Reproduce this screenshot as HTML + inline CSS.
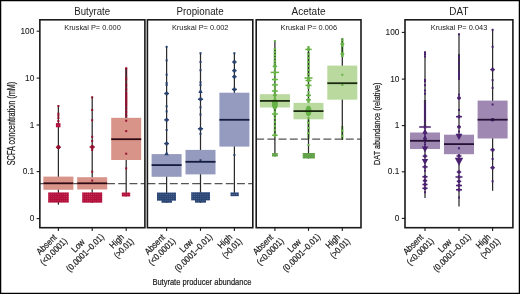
<!DOCTYPE html><html><head><meta charset="utf-8"><style>html,body{margin:0;padding:0;background:#fff;}svg{display:block;will-change:transform} text{stroke:#1e1e1e;stroke-width:0.22px}</style></head><body>
<svg width="520" height="294" viewBox="0 0 520 294" font-family='"Liberation Sans", sans-serif'>
<rect x="0" y="0" width="520" height="294" fill="#fff"/>
<rect x="0.6" y="0.6" width="518.8" height="292.8" fill="none" stroke="#000" stroke-width="1.3"/>
<line x1="39.85" y1="183.5" x2="144.9" y2="183.5" stroke="#555" stroke-width="1.25" stroke-dasharray="7.9 3.3"/>
<line x1="58.4" y1="105.4" x2="58.4" y2="204.7" stroke="#2a2a2a" stroke-width="1.25"/>
<rect x="43.40" y="176.6" width="30.00" height="13.20" fill="#d9948a"/>
<rect x="57.40" y="105.10" width="2.00" height="2.00" fill="#96102e"/>
<rect x="57.40" y="112.60" width="2.00" height="2.00" fill="#96102e"/>
<rect x="57.40" y="114.60" width="2.00" height="2.00" fill="#96102e"/>
<rect x="57.40" y="117.00" width="2.00" height="2.00" fill="#96102e"/>
<rect x="57.40" y="120.00" width="2.00" height="2.00" fill="#96102e"/>
<rect x="55.90" y="146.45" width="5.00" height="1.5" fill="#96102e"/>
<rect x="57.20" y="145.50" width="2.4" height="3.4" fill="#96102e"/>
<rect x="56.80" y="145.60" width="3.20" height="3.20" fill="#96102e"/>
<line x1="43.40" y1="183.3" x2="73.40" y2="183.3" stroke="#300a12" stroke-width="1.8"/>
<line x1="92.2" y1="96.6" x2="92.2" y2="203.0" stroke="#2a2a2a" stroke-width="1.25"/>
<rect x="77.20" y="177.2" width="30.00" height="12.30" fill="#d9948a"/>
<rect x="91.20" y="96.40" width="2.00" height="2.00" fill="#96102e"/>
<rect x="91.20" y="109.00" width="2.00" height="2.00" fill="#96102e"/>
<rect x="91.20" y="119.20" width="2.00" height="2.00" fill="#96102e"/>
<rect x="91.20" y="135.80" width="2.00" height="2.00" fill="#96102e"/>
<rect x="91.20" y="140.00" width="2.00" height="2.00" fill="#96102e"/>
<rect x="91.20" y="149.00" width="2.00" height="2.00" fill="#96102e"/>
<rect x="91.20" y="170.70" width="2.00" height="2.00" fill="#96102e"/>
<rect x="91.20" y="179.60" width="2.00" height="2.00" fill="#96102e"/>
<rect x="89.60" y="146.25" width="5.20" height="1.5" fill="#96102e"/>
<rect x="91.00" y="145.30" width="2.4" height="3.4" fill="#96102e"/>
<rect x="90.70" y="145.50" width="3.00" height="3.00" fill="#96102e"/>
<line x1="77.20" y1="183.3" x2="107.20" y2="183.3" stroke="#300a12" stroke-width="1.8"/>
<line x1="126.2" y1="68" x2="126.2" y2="118" stroke="#96102e" stroke-width="2.2" opacity="0.85"/>
<line x1="126.2" y1="67.9" x2="126.2" y2="196.4" stroke="#2a2a2a" stroke-width="1.25"/>
<rect x="111.20" y="117.8" width="30.00" height="42.20" fill="#d9948a"/>
<rect x="125.20" y="67.20" width="2.00" height="2.00" fill="#96102e"/>
<rect x="125.20" y="77.80" width="2.00" height="2.00" fill="#96102e"/>
<rect x="125.20" y="84.20" width="2.00" height="2.00" fill="#96102e"/>
<rect x="125.20" y="88.30" width="2.00" height="2.00" fill="#96102e"/>
<rect x="125.20" y="92.30" width="2.00" height="2.00" fill="#96102e"/>
<rect x="125.20" y="94.40" width="2.00" height="2.00" fill="#96102e"/>
<rect x="125.20" y="96.40" width="2.00" height="2.00" fill="#96102e"/>
<rect x="125.20" y="98.50" width="2.00" height="2.00" fill="#96102e"/>
<rect x="125.20" y="100.50" width="2.00" height="2.00" fill="#96102e"/>
<rect x="125.20" y="102.50" width="2.00" height="2.00" fill="#96102e"/>
<rect x="125.20" y="104.50" width="2.00" height="2.00" fill="#96102e"/>
<rect x="125.20" y="107.60" width="2.00" height="2.00" fill="#96102e"/>
<rect x="125.20" y="111.00" width="2.00" height="2.00" fill="#96102e"/>
<rect x="125.20" y="114.40" width="2.00" height="2.00" fill="#96102e"/>
<rect x="125.20" y="119.70" width="2.00" height="2.00" fill="#96102e"/>
<rect x="125.20" y="130.10" width="2.00" height="2.00" fill="#96102e"/>
<rect x="125.20" y="152.70" width="2.00" height="2.00" fill="#96102e"/>
<rect x="125.20" y="167.40" width="2.00" height="2.00" fill="#96102e"/>
<line x1="111.20" y1="139.2" x2="141.20" y2="139.2" stroke="#300a12" stroke-width="1.8"/>
<defs><pattern id="pt0" x="0.3" y="0.3" width="2.1" height="2.1" patternUnits="userSpaceOnUse"><rect width="2.1" height="2.1" fill="#b00c38"/><rect x="0.5" y="0.5" width="1" height="1" fill="#e06080" opacity="0.55"/></pattern></defs>
<rect x="48.2" y="192.4" width="20.60" height="10.20" fill="url(#pt0)"/>
<rect x="82.2" y="192.4" width="20.00" height="10.30" fill="url(#pt0)"/>
<rect x="121.8" y="192.5" width="8.40" height="4.00" fill="url(#pt0)"/>
<rect x="55.9" y="123.1" width="4.60" height="4.20" fill="url(#pt0)"/>
<rect x="39.85" y="19.8" width="105.05" height="207.90" fill="none" stroke="#1a1a1a" stroke-width="1.6"/>
<line x1="58.4" y1="227.7" x2="58.4" y2="230.89999999999998" stroke="#1a1a1a" stroke-width="1.1"/>
<line x1="92.2" y1="227.7" x2="92.2" y2="230.89999999999998" stroke="#1a1a1a" stroke-width="1.1"/>
<line x1="126.2" y1="227.7" x2="126.2" y2="230.89999999999998" stroke="#1a1a1a" stroke-width="1.1"/>
<text x="92.2" y="14.6" font-size="10" text-anchor="middle" fill="#222" style="stroke-width:0" textLength="35.9" lengthAdjust="spacingAndGlyphs">Butyrate</text>
<text x="92.5" y="29.9" font-size="7.6" text-anchor="middle" fill="#222" style="stroke-width:0" textLength="56.6" lengthAdjust="spacingAndGlyphs">Kruskal P= 0.000</text>
<line x1="147.4" y1="183.5" x2="252.8" y2="183.5" stroke="#555" stroke-width="1.25" stroke-dasharray="7.9 3.3"/>
<line x1="166.6" y1="46.8" x2="166.6" y2="203.0" stroke="#2a2a2a" stroke-width="1.25"/>
<rect x="151.60" y="154.1" width="30.00" height="22.70" fill="#959bbf"/>
<rect x="165.60" y="45.80" width="2.00" height="2.00" fill="#26406e"/>
<rect x="165.60" y="59.40" width="2.00" height="2.00" fill="#26406e"/>
<rect x="165.60" y="73.70" width="2.00" height="2.00" fill="#26406e"/>
<rect x="165.60" y="82.00" width="2.00" height="2.00" fill="#26406e"/>
<rect x="165.60" y="84.00" width="2.00" height="2.00" fill="#26406e"/>
<rect x="165.60" y="105.30" width="2.00" height="2.00" fill="#26406e"/>
<rect x="165.60" y="110.40" width="2.00" height="2.00" fill="#26406e"/>
<rect x="165.60" y="129.00" width="2.00" height="2.00" fill="#26406e"/>
<rect x="164.20" y="92.75" width="4.80" height="1.5" fill="#26406e"/>
<rect x="165.40" y="91.80" width="2.4" height="3.4" fill="#26406e"/>
<rect x="164.20" y="119.15" width="4.80" height="1.5" fill="#26406e"/>
<rect x="165.40" y="118.20" width="2.4" height="3.4" fill="#26406e"/>
<rect x="164.20" y="142.85" width="4.80" height="1.5" fill="#26406e"/>
<rect x="165.40" y="141.90" width="2.4" height="3.4" fill="#26406e"/>
<path d="M166.60,151.10 L168.80,155.28 L164.40,155.28Z" fill="#26406e"/>
<line x1="151.60" y1="165.1" x2="181.60" y2="165.1" stroke="#141c3e" stroke-width="1.8"/>
<line x1="200.5" y1="53.2" x2="200.5" y2="203.0" stroke="#2a2a2a" stroke-width="1.25"/>
<rect x="185.50" y="149.9" width="30.00" height="24.50" fill="#959bbf"/>
<rect x="199.50" y="52.20" width="2.00" height="2.00" fill="#26406e"/>
<rect x="199.50" y="61.00" width="2.00" height="2.00" fill="#26406e"/>
<rect x="199.50" y="69.20" width="2.00" height="2.00" fill="#26406e"/>
<rect x="199.50" y="81.40" width="2.00" height="2.00" fill="#26406e"/>
<rect x="199.50" y="84.00" width="2.00" height="2.00" fill="#26406e"/>
<rect x="199.50" y="106.30" width="2.00" height="2.00" fill="#26406e"/>
<rect x="199.50" y="113.50" width="2.00" height="2.00" fill="#26406e"/>
<rect x="199.50" y="132.90" width="2.00" height="2.00" fill="#26406e"/>
<rect x="199.50" y="159.20" width="2.00" height="2.00" fill="#26406e"/>
<path d="M200.50,88.80 L202.70,92.98 L198.30,92.98Z" fill="#26406e"/>
<rect x="197.90" y="98.45" width="5.20" height="1.5" fill="#26406e"/>
<rect x="199.30" y="97.50" width="2.4" height="3.4" fill="#26406e"/>
<rect x="197.90" y="128.05" width="5.20" height="1.5" fill="#26406e"/>
<rect x="199.30" y="127.10" width="2.4" height="3.4" fill="#26406e"/>
<line x1="185.50" y1="161.8" x2="215.50" y2="161.8" stroke="#141c3e" stroke-width="1.8"/>
<line x1="234.4" y1="53.2" x2="234.4" y2="196.0" stroke="#2a2a2a" stroke-width="1.25"/>
<rect x="219.40" y="92.7" width="30.00" height="53.90" fill="#959bbf"/>
<rect x="233.40" y="52.20" width="2.00" height="2.00" fill="#26406e"/>
<rect x="233.40" y="154.00" width="2.00" height="2.00" fill="#26406e"/>
<rect x="232.20" y="61.25" width="4.40" height="1.5" fill="#26406e"/>
<rect x="233.20" y="60.30" width="2.4" height="3.4" fill="#26406e"/>
<rect x="232.20" y="69.85" width="4.40" height="1.5" fill="#26406e"/>
<rect x="233.20" y="68.90" width="2.4" height="3.4" fill="#26406e"/>
<rect x="232.20" y="75.95" width="4.40" height="1.5" fill="#26406e"/>
<rect x="233.20" y="75.00" width="2.4" height="3.4" fill="#26406e"/>
<rect x="231.90" y="88.65" width="5.00" height="1.5" fill="#26406e"/>
<rect x="233.20" y="87.70" width="2.4" height="3.4" fill="#26406e"/>
<line x1="219.40" y1="119.8" x2="249.40" y2="119.8" stroke="#141c3e" stroke-width="1.8"/>
<defs><pattern id="pt1" x="0.3" y="0.3" width="2.1" height="2.1" patternUnits="userSpaceOnUse"><rect width="2.1" height="2.1" fill="#29426f"/><rect x="0.5" y="0.5" width="1" height="1" fill="#7090c8" opacity="0.55"/></pattern></defs>
<rect x="157" y="192.5" width="19.00" height="8.20" fill="url(#pt1)"/>
<rect x="161.5" y="200" width="10.50" height="2.80" fill="url(#pt1)"/>
<rect x="191.2" y="192.2" width="18.80" height="8.20" fill="url(#pt1)"/>
<rect x="195" y="200" width="11.00" height="2.70" fill="url(#pt1)"/>
<rect x="230.5" y="192.4" width="8.30" height="3.80" fill="url(#pt1)"/>
<rect x="147.4" y="19.8" width="105.40" height="207.90" fill="none" stroke="#1a1a1a" stroke-width="1.6"/>
<line x1="166.6" y1="227.7" x2="166.6" y2="230.89999999999998" stroke="#1a1a1a" stroke-width="1.1"/>
<line x1="200.5" y1="227.7" x2="200.5" y2="230.89999999999998" stroke="#1a1a1a" stroke-width="1.1"/>
<line x1="234.4" y1="227.7" x2="234.4" y2="230.89999999999998" stroke="#1a1a1a" stroke-width="1.1"/>
<text x="200.1" y="14.6" font-size="10" text-anchor="middle" fill="#222" style="stroke-width:0" textLength="47.2" lengthAdjust="spacingAndGlyphs">Propionate</text>
<text x="200.2" y="29.9" font-size="7.6" text-anchor="middle" fill="#222" style="stroke-width:0" textLength="56.6" lengthAdjust="spacingAndGlyphs">Kruskal P= 0.002</text>
<line x1="256.2" y1="139.2" x2="361.0" y2="139.2" stroke="#555" stroke-width="1.25" stroke-dasharray="7.9 3.3"/>
<line x1="274.9" y1="48" x2="274.9" y2="66" stroke="#66b246" stroke-width="2.4" opacity="0.85"/>
<line x1="274.9" y1="107" x2="274.9" y2="134" stroke="#66b246" stroke-width="2.2" opacity="0.85"/>
<line x1="274.9" y1="40.7" x2="274.9" y2="156.5" stroke="#2a2a2a" stroke-width="1.25"/>
<rect x="259.90" y="94.2" width="30.00" height="13.30" fill="#b9d99f"/>
<rect x="273.90" y="40.00" width="2.00" height="2.00" fill="#66b246"/>
<rect x="273.90" y="48.00" width="2.00" height="2.00" fill="#66b246"/>
<rect x="273.90" y="51.00" width="2.00" height="2.00" fill="#66b246"/>
<rect x="273.90" y="54.00" width="2.00" height="2.00" fill="#66b246"/>
<rect x="273.90" y="57.00" width="2.00" height="2.00" fill="#66b246"/>
<rect x="273.90" y="60.00" width="2.00" height="2.00" fill="#66b246"/>
<rect x="273.90" y="62.50" width="2.00" height="2.00" fill="#66b246"/>
<rect x="273.90" y="68.00" width="2.00" height="2.00" fill="#66b246"/>
<rect x="273.90" y="74.00" width="2.00" height="2.00" fill="#66b246"/>
<rect x="273.90" y="87.00" width="2.00" height="2.00" fill="#66b246"/>
<rect x="273.90" y="97.00" width="2.00" height="2.00" fill="#66b246"/>
<rect x="273.90" y="102.00" width="2.00" height="2.00" fill="#66b246"/>
<rect x="273.90" y="111.00" width="2.00" height="2.00" fill="#66b246"/>
<rect x="273.90" y="117.00" width="2.00" height="2.00" fill="#66b246"/>
<rect x="273.90" y="121.00" width="2.00" height="2.00" fill="#66b246"/>
<rect x="273.90" y="125.00" width="2.00" height="2.00" fill="#66b246"/>
<rect x="273.90" y="129.00" width="2.00" height="2.00" fill="#66b246"/>
<rect x="272.70" y="65.55" width="4.40" height="1.5" fill="#66b246"/>
<rect x="273.70" y="64.60" width="2.4" height="3.4" fill="#66b246"/>
<rect x="270.70" y="71.65" width="8.40" height="1.5" fill="#66b246"/>
<rect x="273.70" y="70.70" width="2.4" height="3.4" fill="#66b246"/>
<rect x="271.90" y="78.75" width="6.00" height="1.5" fill="#66b246"/>
<rect x="273.70" y="77.80" width="2.4" height="3.4" fill="#66b246"/>
<rect x="271.90" y="84.15" width="6.00" height="1.5" fill="#66b246"/>
<rect x="273.70" y="83.20" width="2.4" height="3.4" fill="#66b246"/>
<rect x="271.90" y="90.25" width="6.00" height="1.5" fill="#66b246"/>
<rect x="273.70" y="89.30" width="2.4" height="3.4" fill="#66b246"/>
<rect x="272.90" y="94.45" width="4.00" height="1.5" fill="#66b246"/>
<rect x="273.70" y="93.50" width="2.4" height="3.4" fill="#66b246"/>
<rect x="272.10" y="134.45" width="5.60" height="1.5" fill="#66b246"/>
<rect x="273.70" y="133.50" width="2.4" height="3.4" fill="#66b246"/>
<ellipse cx="274.90" cy="104.00" rx="3.00" ry="5.60" fill="#66b246"/>
<rect x="271.90" y="113.25" width="6.00" height="1.5" fill="#66b246"/>
<rect x="273.70" y="112.30" width="2.4" height="3.4" fill="#66b246"/>
<line x1="259.90" y1="100.9" x2="289.90" y2="100.9" stroke="#1c2a12" stroke-width="1.8"/>
<line x1="308.5" y1="52" x2="308.5" y2="76" stroke="#66b246" stroke-width="2.4" opacity="0.85"/>
<line x1="308.5" y1="119" x2="308.5" y2="139" stroke="#66b246" stroke-width="2.2" opacity="0.85"/>
<line x1="308.5" y1="46.8" x2="308.5" y2="158.5" stroke="#2a2a2a" stroke-width="1.25"/>
<rect x="293.50" y="102.9" width="30.00" height="16.40" fill="#b9d99f"/>
<rect x="307.50" y="46.00" width="2.00" height="2.00" fill="#66b246"/>
<rect x="307.50" y="53.20" width="2.00" height="2.00" fill="#66b246"/>
<rect x="307.50" y="57.00" width="2.00" height="2.00" fill="#66b246"/>
<rect x="307.50" y="61.00" width="2.00" height="2.00" fill="#66b246"/>
<rect x="307.50" y="65.00" width="2.00" height="2.00" fill="#66b246"/>
<rect x="307.50" y="69.00" width="2.00" height="2.00" fill="#66b246"/>
<rect x="307.50" y="73.00" width="2.00" height="2.00" fill="#66b246"/>
<rect x="307.50" y="87.00" width="2.00" height="2.00" fill="#66b246"/>
<rect x="307.50" y="91.00" width="2.00" height="2.00" fill="#66b246"/>
<rect x="307.50" y="101.00" width="2.00" height="2.00" fill="#66b246"/>
<rect x="307.50" y="117.00" width="2.00" height="2.00" fill="#66b246"/>
<rect x="307.50" y="122.00" width="2.00" height="2.00" fill="#66b246"/>
<rect x="307.50" y="127.00" width="2.00" height="2.00" fill="#66b246"/>
<rect x="307.50" y="132.00" width="2.00" height="2.00" fill="#66b246"/>
<rect x="307.50" y="144.00" width="2.00" height="2.00" fill="#66b246"/>
<rect x="305.30" y="48.65" width="6.40" height="1.5" fill="#66b246"/>
<rect x="307.30" y="47.70" width="2.4" height="3.4" fill="#66b246"/>
<rect x="304.50" y="77.25" width="8.00" height="1.5" fill="#66b246"/>
<rect x="307.30" y="76.30" width="2.4" height="3.4" fill="#66b246"/>
<rect x="305.50" y="79.75" width="6.00" height="1.5" fill="#66b246"/>
<rect x="307.30" y="78.80" width="2.4" height="3.4" fill="#66b246"/>
<rect x="305.50" y="84.65" width="6.00" height="1.5" fill="#66b246"/>
<rect x="307.30" y="83.70" width="2.4" height="3.4" fill="#66b246"/>
<rect x="306.00" y="94.55" width="5.00" height="1.5" fill="#66b246"/>
<rect x="307.30" y="93.60" width="2.4" height="3.4" fill="#66b246"/>
<rect x="306.00" y="99.15" width="5.00" height="1.5" fill="#66b246"/>
<rect x="307.30" y="98.20" width="2.4" height="3.4" fill="#66b246"/>
<ellipse cx="308.50" cy="111.00" rx="3.00" ry="5.40" fill="#66b246"/>
<line x1="293.50" y1="111.1" x2="323.50" y2="111.1" stroke="#1c2a12" stroke-width="1.8"/>
<line x1="342.3" y1="38" x2="342.3" y2="57" stroke="#66b246" stroke-width="2.4" opacity="0.85"/>
<line x1="342.3" y1="126" x2="342.3" y2="140" stroke="#66b246" stroke-width="2.2" opacity="0.85"/>
<line x1="342.3" y1="38.8" x2="342.3" y2="140.0" stroke="#2a2a2a" stroke-width="1.25"/>
<rect x="327.30" y="65.6" width="30.00" height="34.10" fill="#b9d99f"/>
<rect x="341.30" y="39.40" width="2.00" height="2.00" fill="#66b246"/>
<rect x="341.30" y="44.90" width="2.00" height="2.00" fill="#66b246"/>
<rect x="341.30" y="55.10" width="2.00" height="2.00" fill="#66b246"/>
<rect x="341.30" y="73.80" width="2.00" height="2.00" fill="#66b246"/>
<rect x="341.30" y="84.00" width="2.00" height="2.00" fill="#66b246"/>
<rect x="341.30" y="129.60" width="2.00" height="2.00" fill="#66b246"/>
<rect x="341.30" y="135.00" width="2.00" height="2.00" fill="#66b246"/>
<rect x="340.30" y="43.25" width="4.00" height="1.5" fill="#66b246"/>
<rect x="341.10" y="42.30" width="2.4" height="3.4" fill="#66b246"/>
<rect x="340.30" y="53.25" width="4.00" height="1.5" fill="#66b246"/>
<rect x="341.10" y="52.30" width="2.4" height="3.4" fill="#66b246"/>
<line x1="327.30" y1="83.2" x2="357.30" y2="83.2" stroke="#1c2a12" stroke-width="1.8"/>
<defs><pattern id="pt2" x="0.3" y="0.3" width="2.1" height="2.1" patternUnits="userSpaceOnUse"><rect width="2.1" height="2.1" fill="#5c9e44"/><rect x="0.5" y="0.5" width="1" height="1" fill="#90cc74" opacity="0.55"/></pattern></defs>
<rect x="272" y="153.1" width="5.80" height="3.40" fill="url(#pt2)"/>
<rect x="302.7" y="153" width="12.20" height="5.50" fill="url(#pt2)"/>
<rect x="256.2" y="19.8" width="104.80" height="207.90" fill="none" stroke="#1a1a1a" stroke-width="1.6"/>
<line x1="274.9" y1="227.7" x2="274.9" y2="230.89999999999998" stroke="#1a1a1a" stroke-width="1.1"/>
<line x1="308.5" y1="227.7" x2="308.5" y2="230.89999999999998" stroke="#1a1a1a" stroke-width="1.1"/>
<line x1="342.3" y1="227.7" x2="342.3" y2="230.89999999999998" stroke="#1a1a1a" stroke-width="1.1"/>
<text x="308.5" y="14.6" font-size="10" text-anchor="middle" fill="#222" style="stroke-width:0" textLength="34.0" lengthAdjust="spacingAndGlyphs">Acetate</text>
<text x="308.8" y="29.9" font-size="7.6" text-anchor="middle" fill="#222" style="stroke-width:0" textLength="56.6" lengthAdjust="spacingAndGlyphs">Kruskal P= 0.006</text>
<line x1="425.0" y1="100" x2="425.0" y2="126" stroke="#4a2070" stroke-width="2.2" opacity="0.85"/>
<line x1="425.0" y1="51.5" x2="425.0" y2="198.0" stroke="#2a2a2a" stroke-width="1.25"/>
<rect x="410.00" y="132.5" width="30.00" height="16.50" fill="#9f88b2"/>
<rect x="424.00" y="51.40" width="2.00" height="2.00" fill="#4a2070"/>
<rect x="424.00" y="53.20" width="2.00" height="2.00" fill="#4a2070"/>
<rect x="424.00" y="55.50" width="2.00" height="2.00" fill="#4a2070"/>
<rect x="424.00" y="78.90" width="2.00" height="2.00" fill="#4a2070"/>
<rect x="424.00" y="80.30" width="2.00" height="2.00" fill="#4a2070"/>
<rect x="424.00" y="84.20" width="2.00" height="2.00" fill="#4a2070"/>
<rect x="424.00" y="89.50" width="2.00" height="2.00" fill="#4a2070"/>
<rect x="424.00" y="92.70" width="2.00" height="2.00" fill="#4a2070"/>
<rect x="424.00" y="103.50" width="2.00" height="2.00" fill="#4a2070"/>
<rect x="424.00" y="106.20" width="2.00" height="2.00" fill="#4a2070"/>
<rect x="424.00" y="109.00" width="2.00" height="2.00" fill="#4a2070"/>
<rect x="424.00" y="111.70" width="2.00" height="2.00" fill="#4a2070"/>
<rect x="424.00" y="114.40" width="2.00" height="2.00" fill="#4a2070"/>
<rect x="424.00" y="117.10" width="2.00" height="2.00" fill="#4a2070"/>
<rect x="424.00" y="119.80" width="2.00" height="2.00" fill="#4a2070"/>
<rect x="424.00" y="133.50" width="2.00" height="2.00" fill="#4a2070"/>
<rect x="424.00" y="135.50" width="2.00" height="2.00" fill="#4a2070"/>
<rect x="424.00" y="141.50" width="2.00" height="2.00" fill="#4a2070"/>
<rect x="424.00" y="143.50" width="2.00" height="2.00" fill="#4a2070"/>
<rect x="424.00" y="145.50" width="2.00" height="2.00" fill="#4a2070"/>
<rect x="424.00" y="169.70" width="2.00" height="2.00" fill="#4a2070"/>
<rect x="424.00" y="179.70" width="2.00" height="2.00" fill="#4a2070"/>
<rect x="424.00" y="191.20" width="2.00" height="2.00" fill="#4a2070"/>
<rect x="419.20" y="126.25" width="11.60" height="1.5" fill="#4a2070"/>
<rect x="423.80" y="125.30" width="2.4" height="3.4" fill="#4a2070"/>
<path d="M425.00,128.50 L427.70,133.63 L422.30,133.63Z" fill="#4a2070"/>
<rect x="423.00" y="137.85" width="4.00" height="1.5" fill="#4a2070"/>
<rect x="423.80" y="136.90" width="2.4" height="3.4" fill="#4a2070"/>
<path d="M425.00,152.50 L428.20,146.42 L421.80,146.42Z" fill="#4a2070"/>
<rect x="422.70" y="155.35" width="4.60" height="1.5" fill="#4a2070"/>
<rect x="423.80" y="154.40" width="2.4" height="3.4" fill="#4a2070"/>
<path d="M425.00,165.00 L428.20,158.92 L421.80,158.92Z" fill="#4a2070"/>
<rect x="422.40" y="166.15" width="5.20" height="1.5" fill="#4a2070"/>
<rect x="423.80" y="165.20" width="2.4" height="3.4" fill="#4a2070"/>
<rect x="422.40" y="176.05" width="5.20" height="1.5" fill="#4a2070"/>
<rect x="423.80" y="175.10" width="2.4" height="3.4" fill="#4a2070"/>
<rect x="422.80" y="179.95" width="4.40" height="1.5" fill="#4a2070"/>
<rect x="423.80" y="179.00" width="2.4" height="3.4" fill="#4a2070"/>
<rect x="422.40" y="183.75" width="5.20" height="1.5" fill="#4a2070"/>
<rect x="423.80" y="182.80" width="2.4" height="3.4" fill="#4a2070"/>
<rect x="422.40" y="187.55" width="5.20" height="1.5" fill="#4a2070"/>
<rect x="423.80" y="186.60" width="2.4" height="3.4" fill="#4a2070"/>
<line x1="410.00" y1="140.8" x2="440.00" y2="140.8" stroke="#261034" stroke-width="1.8"/>
<line x1="459.0" y1="54" x2="459.0" y2="80" stroke="#4a2070" stroke-width="2.0" opacity="0.85"/>
<line x1="459.0" y1="33.7" x2="459.0" y2="206.4" stroke="#2a2a2a" stroke-width="1.25"/>
<rect x="444.00" y="134.7" width="30.00" height="19.50" fill="#9f88b2"/>
<rect x="458.00" y="33.30" width="2.00" height="2.00" fill="#4a2070"/>
<rect x="458.00" y="56.30" width="2.00" height="2.00" fill="#4a2070"/>
<rect x="458.00" y="62.20" width="2.00" height="2.00" fill="#4a2070"/>
<rect x="458.00" y="70.70" width="2.00" height="2.00" fill="#4a2070"/>
<rect x="458.00" y="73.00" width="2.00" height="2.00" fill="#4a2070"/>
<rect x="458.00" y="75.80" width="2.00" height="2.00" fill="#4a2070"/>
<rect x="458.00" y="76.60" width="2.00" height="2.00" fill="#4a2070"/>
<rect x="458.00" y="93.60" width="2.00" height="2.00" fill="#4a2070"/>
<rect x="458.00" y="109.00" width="2.00" height="2.00" fill="#4a2070"/>
<rect x="458.00" y="130.50" width="2.00" height="2.00" fill="#4a2070"/>
<rect x="458.00" y="147.30" width="2.00" height="2.00" fill="#4a2070"/>
<rect x="458.00" y="171.00" width="2.00" height="2.00" fill="#4a2070"/>
<rect x="458.00" y="180.30" width="2.00" height="2.00" fill="#4a2070"/>
<rect x="458.00" y="196.50" width="2.00" height="2.00" fill="#4a2070"/>
<rect x="457.00" y="97.25" width="4.00" height="1.5" fill="#4a2070"/>
<rect x="457.80" y="96.30" width="2.4" height="3.4" fill="#4a2070"/>
<rect x="456.00" y="115.95" width="6.00" height="1.5" fill="#4a2070"/>
<rect x="457.80" y="115.00" width="2.4" height="3.4" fill="#4a2070"/>
<rect x="457.00" y="126.15" width="4.00" height="1.5" fill="#4a2070"/>
<rect x="457.80" y="125.20" width="2.4" height="3.4" fill="#4a2070"/>
<path d="M459.00,140.20 L462.40,133.74 L455.60,133.74Z" fill="#4a2070"/>
<rect x="456.50" y="155.25" width="5.00" height="1.5" fill="#4a2070"/>
<rect x="457.80" y="154.30" width="2.4" height="3.4" fill="#4a2070"/>
<path d="M459.00,165.70 L463.20,157.72 L454.80,157.72Z" fill="#4a2070"/>
<rect x="456.80" y="171.25" width="4.40" height="1.5" fill="#4a2070"/>
<rect x="457.80" y="170.30" width="2.4" height="3.4" fill="#4a2070"/>
<rect x="455.50" y="176.25" width="7.00" height="1.5" fill="#4a2070"/>
<rect x="457.80" y="175.30" width="2.4" height="3.4" fill="#4a2070"/>
<rect x="456.80" y="180.55" width="4.40" height="1.5" fill="#4a2070"/>
<rect x="457.80" y="179.60" width="2.4" height="3.4" fill="#4a2070"/>
<rect x="456.00" y="184.75" width="6.00" height="1.5" fill="#4a2070"/>
<rect x="457.80" y="183.80" width="2.4" height="3.4" fill="#4a2070"/>
<rect x="456.00" y="189.05" width="6.00" height="1.5" fill="#4a2070"/>
<rect x="457.80" y="188.10" width="2.4" height="3.4" fill="#4a2070"/>
<line x1="444.00" y1="144.1" x2="474.00" y2="144.1" stroke="#261034" stroke-width="1.8"/>
<line x1="492.6" y1="29.5" x2="492.6" y2="190.8" stroke="#2a2a2a" stroke-width="1.25"/>
<rect x="477.60" y="100.6" width="30.00" height="37.90" fill="#9f88b2"/>
<rect x="491.60" y="28.80" width="2.00" height="2.00" fill="#4a2070"/>
<rect x="491.60" y="45.80" width="2.00" height="2.00" fill="#4a2070"/>
<rect x="491.60" y="79.20" width="2.00" height="2.00" fill="#4a2070"/>
<rect x="491.60" y="86.90" width="2.00" height="2.00" fill="#4a2070"/>
<rect x="491.60" y="103.50" width="2.00" height="2.00" fill="#4a2070"/>
<rect x="491.60" y="158.00" width="2.00" height="2.00" fill="#4a2070"/>
<rect x="491.60" y="180.30" width="2.00" height="2.00" fill="#4a2070"/>
<rect x="490.30" y="68.85" width="4.60" height="1.5" fill="#4a2070"/>
<rect x="491.40" y="67.90" width="2.4" height="3.4" fill="#4a2070"/>
<rect x="490.30" y="118.95" width="4.60" height="1.5" fill="#4a2070"/>
<rect x="491.40" y="118.00" width="2.4" height="3.4" fill="#4a2070"/>
<rect x="490.40" y="149.05" width="4.40" height="1.5" fill="#4a2070"/>
<rect x="491.40" y="148.10" width="2.4" height="3.4" fill="#4a2070"/>
<rect x="490.40" y="166.95" width="4.40" height="1.5" fill="#4a2070"/>
<rect x="491.40" y="166.00" width="2.4" height="3.4" fill="#4a2070"/>
<line x1="477.60" y1="119.7" x2="507.60" y2="119.7" stroke="#261034" stroke-width="1.8"/>
<defs><pattern id="pt3" x="0.3" y="0.3" width="2.1" height="2.1" patternUnits="userSpaceOnUse"><rect width="2.1" height="2.1" fill="#4a2070"/><rect x="0.5" y="0.5" width="1" height="1" fill="#6a4090" opacity="0.55"/></pattern></defs>
<rect x="405.0" y="19.8" width="107.90" height="207.90" fill="none" stroke="#1a1a1a" stroke-width="1.6"/>
<line x1="425.0" y1="227.7" x2="425.0" y2="230.89999999999998" stroke="#1a1a1a" stroke-width="1.1"/>
<line x1="459.0" y1="227.7" x2="459.0" y2="230.89999999999998" stroke="#1a1a1a" stroke-width="1.1"/>
<line x1="492.6" y1="227.7" x2="492.6" y2="230.89999999999998" stroke="#1a1a1a" stroke-width="1.1"/>
<text x="458.9" y="14.6" font-size="10" text-anchor="middle" fill="#222" style="stroke-width:0" textLength="19.1" lengthAdjust="spacingAndGlyphs">DAT</text>
<text x="459.0" y="29.9" font-size="7.6" text-anchor="middle" fill="#222" style="stroke-width:0" textLength="56.6" lengthAdjust="spacingAndGlyphs">Kruskal P= 0.043</text>
<line x1="36.65" y1="31.2" x2="39.85" y2="31.2" stroke="#1a1a1a" stroke-width="1.1"/>
<text x="34.25" y="33.70" font-size="8.3" text-anchor="end" fill="#222" style="stroke-width:0.1">100</text>
<line x1="36.65" y1="78.1" x2="39.85" y2="78.1" stroke="#1a1a1a" stroke-width="1.1"/>
<text x="34.25" y="80.60" font-size="8.3" text-anchor="end" fill="#222" style="stroke-width:0.1">10</text>
<line x1="36.65" y1="125.0" x2="39.85" y2="125.0" stroke="#1a1a1a" stroke-width="1.1"/>
<text x="34.25" y="127.50" font-size="8.3" text-anchor="end" fill="#222" style="stroke-width:0.1">1</text>
<line x1="36.65" y1="171.6" x2="39.85" y2="171.6" stroke="#1a1a1a" stroke-width="1.1"/>
<text x="34.25" y="174.10" font-size="8.3" text-anchor="end" fill="#222" style="stroke-width:0.1">0.1</text>
<line x1="36.65" y1="218.6" x2="39.85" y2="218.6" stroke="#1a1a1a" stroke-width="1.1"/>
<text x="34.25" y="221.10" font-size="8.3" text-anchor="end" fill="#222" style="stroke-width:0.1">0</text>
<line x1="401.8" y1="32.4" x2="405.0" y2="32.4" stroke="#1a1a1a" stroke-width="1.1"/>
<text x="399.40" y="34.90" font-size="8.3" text-anchor="end" fill="#222" style="stroke-width:0.1">100</text>
<line x1="401.8" y1="79.1" x2="405.0" y2="79.1" stroke="#1a1a1a" stroke-width="1.1"/>
<text x="399.40" y="81.60" font-size="8.3" text-anchor="end" fill="#222" style="stroke-width:0.1">10</text>
<line x1="401.8" y1="125.6" x2="405.0" y2="125.6" stroke="#1a1a1a" stroke-width="1.1"/>
<text x="399.40" y="128.10" font-size="8.3" text-anchor="end" fill="#222" style="stroke-width:0.1">1</text>
<line x1="401.8" y1="171.8" x2="405.0" y2="171.8" stroke="#1a1a1a" stroke-width="1.1"/>
<text x="399.40" y="174.30" font-size="8.3" text-anchor="end" fill="#222" style="stroke-width:0.1">0.1</text>
<line x1="401.8" y1="218.4" x2="405.0" y2="218.4" stroke="#1a1a1a" stroke-width="1.1"/>
<text x="399.40" y="220.90" font-size="8.3" text-anchor="end" fill="#222" style="stroke-width:0.1">0</text>
<text transform="translate(15.0,123.5) rotate(-90)" font-size="10" text-anchor="middle" fill="#222" textLength="83.5" lengthAdjust="spacingAndGlyphs">SCFA concentration (mM)</text>
<text transform="translate(380.2,123.7) rotate(-90)" font-size="9.6" text-anchor="middle" fill="#222" textLength="82.5" lengthAdjust="spacingAndGlyphs">DAT abundance (relative)</text>
<g transform="translate(58.40,231) rotate(-45)" font-size="9.0" fill="#1a1a1a" text-anchor="middle" style="stroke-width:0.05">
<text x="-17.9" y="4.20" textLength="24.57" lengthAdjust="spacingAndGlyphs">Absent</text><text x="-17.9" y="14.20" textLength="34.01" lengthAdjust="spacingAndGlyphs">(&lt;0.0001)</text></g>
<g transform="translate(92.20,231) rotate(-45)" font-size="9.0" fill="#1a1a1a" text-anchor="middle" style="stroke-width:0.05">
<text x="-20.4" y="3.40" textLength="14.48" lengthAdjust="spacingAndGlyphs">Low</text><text x="-20.4" y="13.40" textLength="49.15" lengthAdjust="spacingAndGlyphs">(0.0001–0.01)</text></g>
<g transform="translate(126.20,231) rotate(-45)" font-size="9.0" fill="#1a1a1a" text-anchor="middle" style="stroke-width:0.05">
<text x="-13.9" y="3.50" textLength="16.23" lengthAdjust="spacingAndGlyphs">High</text><text x="-13.9" y="13.50" textLength="23.72" lengthAdjust="spacingAndGlyphs">(&gt;0.01)</text></g>
<g transform="translate(166.60,231) rotate(-45)" font-size="9.0" fill="#1a1a1a" text-anchor="middle" style="stroke-width:0.05">
<text x="-17.9" y="4.20" textLength="24.57" lengthAdjust="spacingAndGlyphs">Absent</text><text x="-17.9" y="14.20" textLength="34.01" lengthAdjust="spacingAndGlyphs">(&lt;0.0001)</text></g>
<g transform="translate(200.50,231) rotate(-45)" font-size="9.0" fill="#1a1a1a" text-anchor="middle" style="stroke-width:0.05">
<text x="-20.4" y="3.40" textLength="14.48" lengthAdjust="spacingAndGlyphs">Low</text><text x="-20.4" y="13.40" textLength="49.15" lengthAdjust="spacingAndGlyphs">(0.0001–0.01)</text></g>
<g transform="translate(234.40,231) rotate(-45)" font-size="9.0" fill="#1a1a1a" text-anchor="middle" style="stroke-width:0.05">
<text x="-13.9" y="3.50" textLength="16.23" lengthAdjust="spacingAndGlyphs">High</text><text x="-13.9" y="13.50" textLength="23.72" lengthAdjust="spacingAndGlyphs">(&gt;0.01)</text></g>
<g transform="translate(274.90,231) rotate(-45)" font-size="9.0" fill="#1a1a1a" text-anchor="middle" style="stroke-width:0.05">
<text x="-17.9" y="4.20" textLength="24.57" lengthAdjust="spacingAndGlyphs">Absent</text><text x="-17.9" y="14.20" textLength="34.01" lengthAdjust="spacingAndGlyphs">(&lt;0.0001)</text></g>
<g transform="translate(308.50,231) rotate(-45)" font-size="9.0" fill="#1a1a1a" text-anchor="middle" style="stroke-width:0.05">
<text x="-20.4" y="3.40" textLength="14.48" lengthAdjust="spacingAndGlyphs">Low</text><text x="-20.4" y="13.40" textLength="49.15" lengthAdjust="spacingAndGlyphs">(0.0001–0.01)</text></g>
<g transform="translate(342.30,231) rotate(-45)" font-size="9.0" fill="#1a1a1a" text-anchor="middle" style="stroke-width:0.05">
<text x="-13.9" y="3.50" textLength="16.23" lengthAdjust="spacingAndGlyphs">High</text><text x="-13.9" y="13.50" textLength="23.72" lengthAdjust="spacingAndGlyphs">(&gt;0.01)</text></g>
<g transform="translate(425.00,231) rotate(-45)" font-size="9.0" fill="#1a1a1a" text-anchor="middle" style="stroke-width:0.05">
<text x="-17.9" y="4.20" textLength="24.57" lengthAdjust="spacingAndGlyphs">Absent</text><text x="-17.9" y="14.20" textLength="34.01" lengthAdjust="spacingAndGlyphs">(&lt;0.0001)</text></g>
<g transform="translate(459.00,231) rotate(-45)" font-size="9.0" fill="#1a1a1a" text-anchor="middle" style="stroke-width:0.05">
<text x="-20.4" y="3.40" textLength="14.48" lengthAdjust="spacingAndGlyphs">Low</text><text x="-20.4" y="13.40" textLength="49.15" lengthAdjust="spacingAndGlyphs">(0.0001–0.01)</text></g>
<g transform="translate(492.60,231) rotate(-45)" font-size="9.0" fill="#1a1a1a" text-anchor="middle" style="stroke-width:0.05">
<text x="-13.9" y="3.50" textLength="16.23" lengthAdjust="spacingAndGlyphs">High</text><text x="-13.9" y="13.50" textLength="23.72" lengthAdjust="spacingAndGlyphs">(&gt;0.01)</text></g>
<text x="201.9" y="285.1" font-size="9.6" text-anchor="middle" fill="#222" textLength="99" lengthAdjust="spacingAndGlyphs">Butyrate producer abundance</text>
</svg></body></html>
